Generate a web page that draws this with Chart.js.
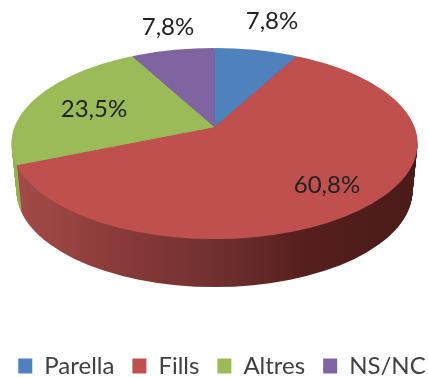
<!DOCTYPE html>
<html>
<head>
<meta charset="utf-8">
<style>
html,body{margin:0;padding:0;background:#fff}
canvas{display:block;filter:blur(0.4px)}
</style>
<script src="https://cdn.jsdelivr.net/npm/chart.js@4/dist/chart.umd.min.js"></script>
</head>
<body>
<canvas id="c" width="428" height="377"></canvas>
<script>
const categories = ['Parella', 'Fills', 'Altres', 'NS/NC'];
const values = [7.8, 60.8, 23.5, 7.8];
const colors = ['#4F81BD', '#C0504D', '#9BBB59', '#8064A2'];

// Picture geometry of the tilted pie
const apex = {x: 214.5, y: 127};
const tilt = 0.46;
const topRim = {cx: 214.5, cy: 143.5, rx: 203, ry: 95.5};
const bottomRim = {cx: 214.5, cy: 191, rx: 198, ry: 96};
const depth = 48;
const labelPlaces = [[272, 21], [327, 185], [94, 109], [168, 27]];

function placeArcs(ctx, el, dy) {
  ctx.translate(apex.x, apex.y + dy);
  ctx.scale(1, tilt);
  ctx.translate(-el.x, -el.y);
}
function rimClip(ctx, t) {
  const cx = topRim.cx + (bottomRim.cx - topRim.cx) * t;
  const cy = topRim.cy + (bottomRim.cy - topRim.cy) * t;
  const rx = topRim.rx + (bottomRim.rx - topRim.rx) * t;
  const ry = topRim.ry + (bottomRim.ry - topRim.ry) * t;
  ctx.beginPath();
  ctx.ellipse(cx, cy, rx, ry, 0, 0, Math.PI * 2);
  ctx.clip();
}
function wallStyles(ctx, arcs) {
  const x0 = arcs[0].x - apex.x;
  const g = ctx.createLinearGradient(x0 + 15, 0, x0 + 415, 0);
  g.addColorStop(0, '#A34C49');
  g.addColorStop(0.25, '#8A3B39');
  g.addColorStop(0.5, '#713030');
  g.addColorStop(0.72, '#561F1E');
  g.addColorStop(1, '#491B19');
  return ['#3F6897', g, '#93B254', '#664F82'];
}

const pie3d = {
  id: 'pie3d',
  beforeDatasetsDraw(chart) {
    const ctx = chart.ctx;
    const arcs = chart.getDatasetMeta(0).data;
    const wall = wallStyles(ctx, arcs);
    for (let d = depth; d >= 1; d--) {
      ctx.save();
      rimClip(ctx, d / depth);
      placeArcs(ctx, arcs[0], d);
      arcs.forEach((el, i) => {
        const saved = el.options;
        el.options = Object.assign({}, saved, {backgroundColor: wall[i]});
        el.draw(ctx);
        el.options = saved;
      });
      ctx.restore();
    }
    ctx.save();
    rimClip(ctx, 0);
    placeArcs(ctx, arcs[0], 0);
  },
  afterDatasetsDraw(chart) {
    const ctx = chart.ctx;
    ctx.restore();
    ctx.save();
    ctx.font = '24px Lato';
    ctx.fillStyle = '#222222';
    ctx.textAlign = 'center';
    ctx.textBaseline = 'middle';
    values.forEach((v, i) => {
      ctx.fillText(v.toFixed(1).replace('.', ',') + '%', labelPlaces[i][0], labelPlaces[i][1]);
    });
    ctx.restore();
  }
};

new Chart(document.getElementById('c'), {
  type: 'pie',
  data: {
    labels: categories,
    datasets: [{
      data: values,
      backgroundColor: colors,
      borderWidth: 0,
      radius: 280,
      clip: false
    }]
  },
  plugins: [pie3d],
  options: {
    responsive: false,
    animation: false,
    events: [],
    layout: {padding: {bottom: -11, left: -10, right: -26}},
    plugins: {
      tooltip: {enabled: false},
      legend: {
        position: 'bottom',
        labels: {
          boxWidth: 14,
          boxHeight: 15,
          padding: 18,
          color: '#404040',
          font: {family: 'Lato', size: 24}
        }
      }
    }
  }
});
</script>
</body>
</html>
